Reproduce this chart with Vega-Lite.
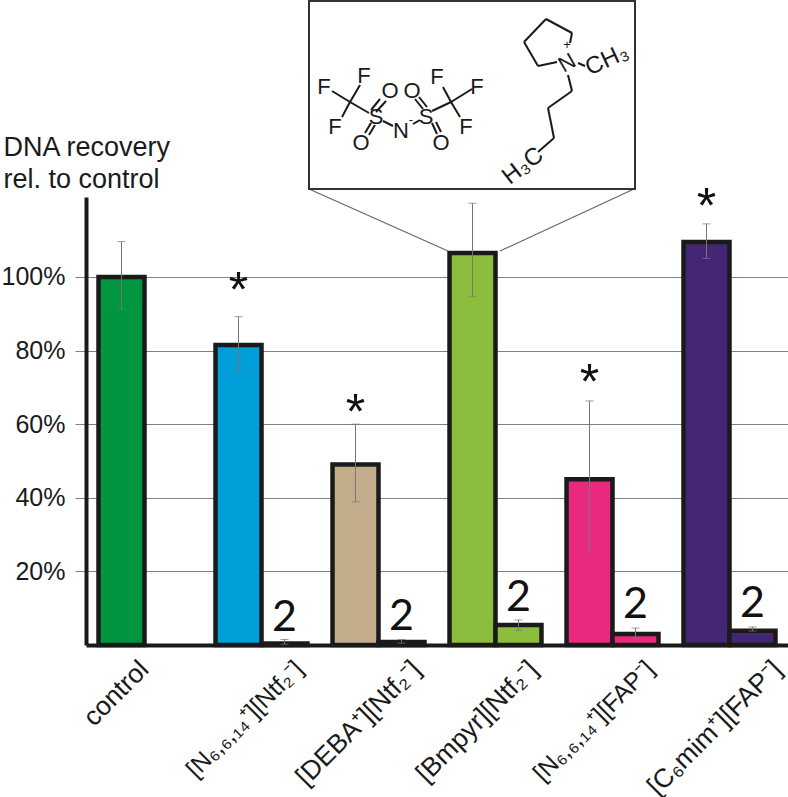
{
"$schema":"https://vega.github.io/schema/vega-lite/v6.json",
"width":702,"height":448,
"autosize":"none",
"padding":{"left":86,"top":197,"right":0,"bottom":152},
"background":"white",
"view":{"stroke":null},
"config":{"font":"Liberation Sans"},
"datasets":{
"bars":[
{"group":"control","series":"1x","value":100,"low":91.3,"high":109.6},
{"group":"[N₆,₆,₁₄⁺][Ntf₂⁻]","series":"1x","value":81.5,"low":74.5,"high":89.2},
{"group":"[N₆,₆,₁₄⁺][Ntf₂⁻]","series":"2x","value":0.4,"low":0.2,"high":1.5},
{"group":"[DEBA⁺][Ntf₂⁻]","series":"1x","value":49,"low":38.9,"high":60},
{"group":"[DEBA⁺][Ntf₂⁻]","series":"2x","value":0.8,"low":0.5,"high":1.5},
{"group":"[Bmpyr][Ntf₂⁻]","series":"1x","value":106.5,"low":94.6,"high":120},
{"group":"[Bmpyr][Ntf₂⁻]","series":"2x","value":5.4,"low":4,"high":6.8},
{"group":"[N₆,₆,₁₄⁺][FAP⁻]","series":"1x","value":45,"low":25.5,"high":66.3},
{"group":"[N₆,₆,₁₄⁺][FAP⁻]","series":"2x","value":3,"low":1.9,"high":4.6},
{"group":"[C₆mim⁺][FAP⁻]","series":"1x","value":109.5,"low":105,"high":114.4},
{"group":"[C₆mim⁺][FAP⁻]","series":"2x","value":3.9,"low":3.8,"high":4.9}
],
"notes":[
{"group":"[N₆,₆,₁₄⁺][Ntf₂⁻]","series":"1x","text":"*","at":91.9},
{"group":"[DEBA⁺][Ntf₂⁻]","series":"1x","text":"*","at":58.8},
{"group":"[N₆,₆,₁₄⁺][FAP⁻]","series":"1x","text":"*","at":66.9},
{"group":"[C₆mim⁺][FAP⁻]","series":"1x","text":"*","at":114.6}
],
"twos":[
{"group":"[N₆,₆,₁₄⁺][Ntf₂⁻]","series":"2x","text":"2","at":3.8},
{"group":"[DEBA⁺][Ntf₂⁻]","series":"2x","text":"2","at":4},
{"group":"[Bmpyr][Ntf₂⁻]","series":"2x","text":"2","at":9.2},
{"group":"[N₆,₆,₁₄⁺][FAP⁻]","series":"2x","text":"2","at":7.3},
{"group":"[C₆mim⁺][FAP⁻]","series":"2x","text":"2","at":7.6}
],
"connectors":[
{"u":309,"v":189,"u2":448,"v2":251},
{"u":634,"v":189,"u2":500,"v2":251}
],
"box":[{"u":309,"v":1,"u2":635,"v2":189}],
"bonds":[
{"u":350,"v":102,"u2":360,"v2":85},{"u":350,"v":102,"u2":332,"v2":91},{"u":350,"v":102,"u2":342,"v2":117},{"u":350,"v":102,"u2":369,"v2":113},
{"u":371,"v":110,"u2":380,"v2":99},{"u":376,"v":112,"u2":386,"v2":101},
{"u":365,"v":133,"u2":371,"v2":123},{"u":369,"v":135,"u2":375,"v2":125},
{"u":383,"v":121,"u2":393,"v2":126},{"u":413,"v":124,"u2":420,"v2":120},
{"u":415,"v":99,"u2":423,"v2":109},{"u":419,"v":97,"u2":427,"v2":107},
{"u":432,"v":123,"u2":437,"v2":134},{"u":436,"v":122,"u2":441,"v2":132},
{"u":451,"v":102,"u2":432,"v2":111},{"u":451,"v":102,"u2":443,"v2":87},{"u":451,"v":102,"u2":472,"v2":89},{"u":451,"v":102,"u2":460,"v2":117},
{"u":557,"v":62,"u2":538,"v2":66},{"u":538,"v":66,"u2":524,"v2":42},{"u":524,"v":42,"u2":546,"v2":19},{"u":546,"v":19,"u2":572,"v2":33},{"u":572,"v":33,"u2":570,"v2":43},
{"u":578,"v":63,"u2":585,"v2":66},
{"u":568,"v":75,"u2":572,"v2":91},{"u":572,"v":91,"u2":548,"v2":108},{"u":548,"v":108,"u2":554,"v2":138},{"u":554,"v":138,"u2":538,"v2":152}
],
"atoms":[
{"t":"F","u":364,"v":76},{"t":"F","u":324,"v":87},{"t":"F","u":335,"v":127},
{"t":"S","u":376,"v":117},{"t":"O","u":390,"v":91},{"t":"O","u":361,"v":143},
{"t":"N","u":401,"v":131},{"t":"S","u":426,"v":117},{"t":"O","u":412,"v":91},{"t":"O","u":441,"v":143},
{"t":"F","u":437,"v":77},{"t":"F","u":477,"v":87},{"t":"F","u":466,"v":127}
]
},
"resolve":{"scale":{"x":"independent","y":"independent"}},
"layer":[
{
"encoding":{
"x":{"field":"group","type":"nominal","sort":null,
"scale":{"domain":["control","[N₆,₆,₁₄⁺][Ntf₂⁻]","[DEBA⁺][Ntf₂⁻]","[Bmpyr][Ntf₂⁻]","[N₆,₆,₁₄⁺][FAP⁻]","[C₆mim⁺][FAP⁻]"],"paddingInner":0.214,"paddingOuter":0.107},
"axis":{"title":null,"labelAngle":-45,"labelAlign":"right","labelBaseline":"middle","labelFontSize":{"condition":{"test":"indexof(datum.value,'₁₄')>=0","value":24.5},"value":26.5},"labelFont":"Liberation Sans","labelColor":"#1a1a1a","labelLimit":400,"ticks":false,"domainColor":"#1a1a1a","domainWidth":4,"labelPadding":20,"labelOverlap":false,"labelOffset":{"condition":[{"test":"datum.value==='control'","value":0},{"test":"indexof(datum.value,'C₆')>=0","value":48}],"value":38}}},
"xOffset":{"field":"series","type":"nominal","scale":{"domain":["1x","2x"]}}
},
"layer":[
{"data":{"name":"bars"},
"mark":{"type":"bar","stroke":"#1a1a1a","strokeWidth":4.5},
"encoding":{
"y":{"field":"value","type":"quantitative","scale":{"domain":[0,121.7],"nice":false},
"axis":{"title":["DNA recovery","rel. to control"],"titleAngle":0,"titleAlign":"left","titleBaseline":"alphabetic","titleX":-83,"titleY":-42,"titleFontSize":27,"titleFontWeight":"normal","titleFont":"Liberation Sans","titleColor":"#1a1a1a","titleLineHeight":32,
"values":[20,40,60,80,100],"labelExpr":"datum.value+'%'","labelFontSize":25,"labelFont":"Liberation Sans","labelColor":"#1a1a1a","labelPadding":10,"tickSize":11,"tickColor":"#808080","tickWidth":1,"grid":true,"gridColor":"#808080","gridWidth":1,"domainColor":"#1a1a1a","domainWidth":4}},
"color":{"field":"group","type":"nominal","legend":null,
"scale":{"domain":["control","[N₆,₆,₁₄⁺][Ntf₂⁻]","[DEBA⁺][Ntf₂⁻]","[Bmpyr][Ntf₂⁻]","[N₆,₆,₁₄⁺][FAP⁻]","[C₆mim⁺][FAP⁻]"],"range":["#009640","#009FDA","#C4AD8B","#8DBD3C","#E9297F","#432775"]}}
}},
{"data":{"name":"bars"},"mark":{"type":"rule","color":"#777777","strokeWidth":1},
"encoding":{"y":{"field":"low","type":"quantitative"},"y2":{"field":"high"}}},
{"data":{"name":"bars"},"mark":{"type":"tick","color":"#777777","thickness":1,"size":8},
"encoding":{"y":{"field":"low","type":"quantitative"}}},
{"data":{"name":"bars"},"mark":{"type":"tick","color":"#777777","thickness":1,"size":8},
"encoding":{"y":{"field":"high","type":"quantitative"}}},
{"data":{"name":"notes"},"mark":{"type":"text","fontSize":50,"font":"Liberation Sans","baseline":"alphabetic","color":"#111111"},
"encoding":{"y":{"field":"at","type":"quantitative"},"text":{"field":"text"}}},
{"data":{"name":"twos"},"mark":{"type":"text","fontSize":43,"font":"Lato","baseline":"alphabetic","color":"#111111"},
"encoding":{"y":{"field":"at","type":"quantitative"},"text":{"field":"text"}}}
]
},
{
"encoding":{
"x":{"field":"u","type":"quantitative","scale":{"domain":[86,788],"nice":false,"zero":false},"axis":null},
"y":{"field":"v","type":"quantitative","scale":{"domain":[645,197],"nice":false,"zero":false},"axis":null}
},
"layer":[
{"data":{"name":"connectors"},"mark":{"type":"rule","color":"#666666","strokeWidth":1.2},
"encoding":{"x2":{"field":"u2"},"y2":{"field":"v2"}}},
{"data":{"name":"box"},"mark":{"type":"rect","fill":"white","stroke":"#333333","strokeWidth":2},
"encoding":{"x2":{"field":"u2"},"y2":{"field":"v2"}}},
{"data":{"name":"bonds"},"mark":{"type":"rule","color":"#1a1a1a","strokeWidth":2},
"encoding":{"x2":{"field":"u2"},"y2":{"field":"v2"}}},
{"data":{"name":"atoms"},"mark":{"type":"text","fontSize":22,"font":"Liberation Sans","color":"#1a1a1a","baseline":"middle"},
"encoding":{"text":{"field":"t"}}},
{"data":{"values":[{"t":"-","u":411,"v":120},{"t":"+","u":567,"v":45}]},"mark":{"type":"text","fontSize":13,"font":"Liberation Sans","color":"#1a1a1a","baseline":"middle"},
"encoding":{"text":{"field":"t"}}},
{"data":{"values":[{"t":"N","u":567,"v":63}]},"mark":{"type":"text","fontSize":22,"angle":-30,"font":"Liberation Sans","color":"#1a1a1a","baseline":"middle"},
"encoding":{"text":{"field":"t"}}},
{"data":{"values":[{"t":"CH₃","u":607,"v":60}]},"mark":{"type":"text","fontSize":24,"angle":-25,"font":"Liberation Sans","color":"#1a1a1a","baseline":"middle"},
"encoding":{"text":{"field":"t"}}},
{"data":{"values":[{"t":"H₃C","u":523,"v":166}]},"mark":{"type":"text","fontSize":24,"angle":-38,"font":"Liberation Sans","color":"#1a1a1a","baseline":"middle"},
"encoding":{"text":{"field":"t"}}}
]
}
]
}
